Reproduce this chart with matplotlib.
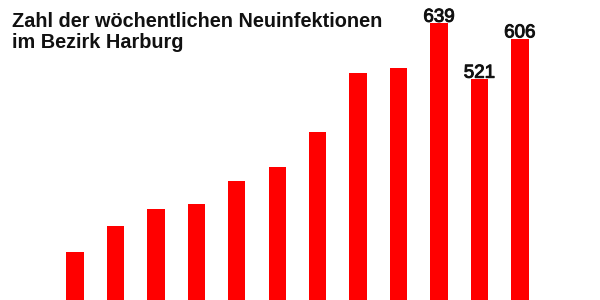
import matplotlib
matplotlib.use("Agg")
import matplotlib.pyplot as plt
import matplotlib.patheffects as pe

# weekly new infections, Bezirk Harburg
weeks = list(range(12))
cases = [157, 212, 246, 258, 307, 336, 410, 533, 545, 639, 521, 606]
labelled = [9, 10, 11]  # only the last three bars carry a number

plt.rcParams["font.family"] = ["Liberation Sans", "DejaVu Sans"]

fig = plt.figure(figsize=(6, 3), dpi=100)
# the chart is cropped at the bottom, so the axes run below the figure edge
ax = fig.add_axes([0, -26 / 300, 1, 326 / 300])
ax.bar(weeks, cases, width=0.43, color="#ff0000")
ax.set_xlim(-1.854, 12.98)
ax.set_ylim(0, 688)
ax.axis("off")

# numbers are a medium weight in the original, so thicken the regular face a bit
for i in labelled:
    ax.text(weeks[i], cases[i] + 3, str(cases[i]), ha="center", va="baseline",
            fontsize=13.5, color="#111111",
            path_effects=[pe.withStroke(linewidth=0.7, foreground="#111111")])

fig.text(0.02, 1 - 48.5 / 300, "Zahl der wöchentlichen Neuinfektionen\nim Bezirk Harburg",
         ha="left", va="baseline", fontsize=14.3, fontweight="bold",
         linespacing=1.18, color="#111111")

fig.savefig("out.png", dpi=100)
